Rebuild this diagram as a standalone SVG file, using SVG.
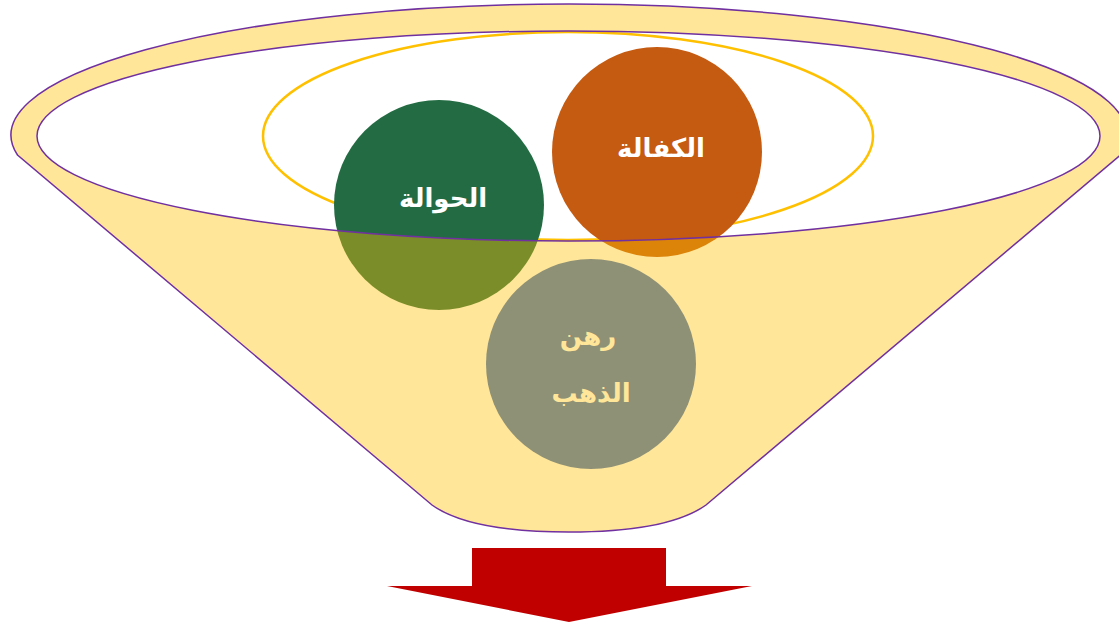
<svg xmlns="http://www.w3.org/2000/svg" width="1119" height="624" viewBox="0 0 1119 624">
  <style>
    .lbl { font-family: "DejaVu Sans", "Noto Sans", sans-serif; font-weight: bold; font-size: 26px; text-anchor: middle; fill: #FFFFFF; }
    .edge { stroke: #7030A0; stroke-width: 1.5; }
  </style>
  <rect width="1119" height="624" fill="#FFFFFF"/>
  <g id="inner-ring">
    <ellipse cx="568" cy="136" rx="305" ry="104" fill="none" stroke="#FFC000" stroke-width="2.5"/>
  </g>
  <g id="node-hawala">
    <circle cx="439" cy="205" r="105" fill="#236C43"/>
    <text class="lbl" x="443" y="207">الحوالة</text>
  </g>
  <g id="node-kafala">
    <circle cx="657" cy="152" r="105" fill="#C55A11"/>
    <text class="lbl" x="661" y="157">الكفالة</text>
  </g>
  <g id="node-rahn">
    <circle cx="591" cy="364" r="105" fill="#4472C4"/>
    <text class="lbl" x="588" y="345">رهن</text>
    <text class="lbl" x="591" y="402">الذهب</text>
  </g>
  <g id="funnel">
    <path class="edge" fill="#FFC000" fill-opacity="0.4" fill-rule="evenodd"
      d="M17.5,155 A558,131 0 1,1 1120.5,155 L706,505 C678,525 628,532 569,532 C510,532 460,525 432,505 Z
         M37,136 A531.5,105 0 1,0 1100,136 A531.5,105 0 1,0 37,136 Z"/>
  </g>
  <g id="connectors">
    <polygon points="472,548 666,548 666,586 752,586 569,622 387,586 472,586" fill="#C00000"/>
  </g>
</svg>
